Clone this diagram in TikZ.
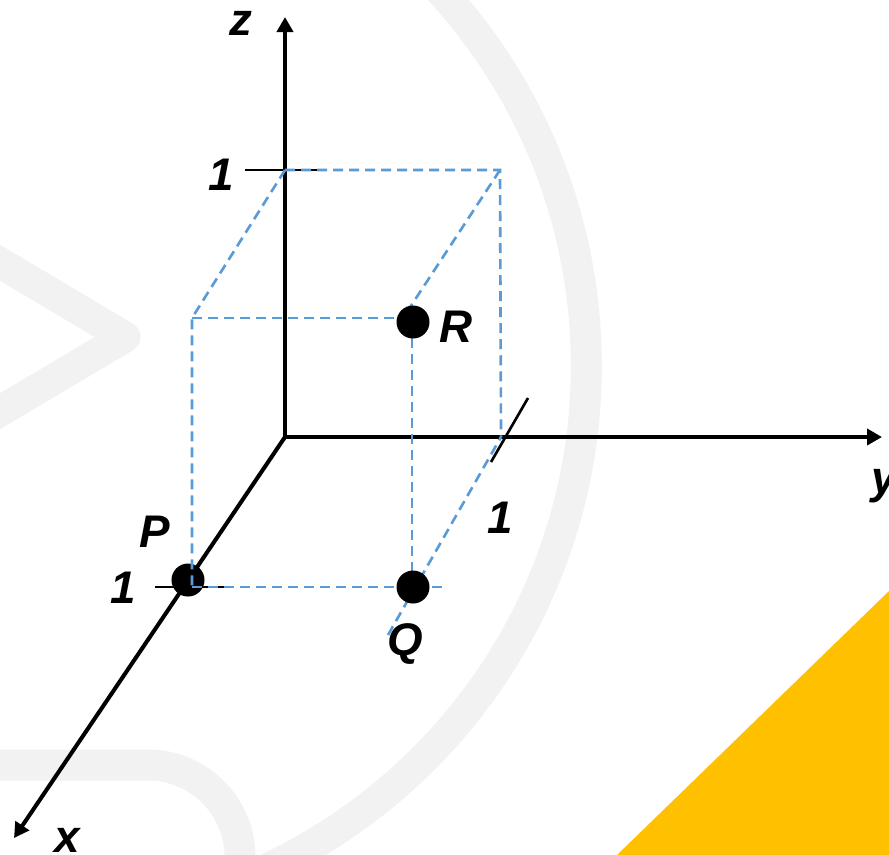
\documentclass[tikz,border=0pt]{standalone}
\usepackage{fontspec}
\setmainfont{Liberation Sans}
\usepackage{xcolor}
\usepackage{tikz}
\usetikzlibrary{arrows.meta,positioning}
\definecolor{dashblue}{HTML}{5B9BD5}
\definecolor{markyellow}{HTML}{FFC000}
\definecolor{wmgray}{HTML}{F2F2F2}

\begin{document}
\begin{tikzpicture}[
  x=0.01cm, y=-0.01cm,
  axis/.style={line width=1.15pt, -{Triangle[length=0.15cm,width=0.16cm]}},
  tick/.style={line width=0.75pt},
  guide/.style={dashblue, line width=0.75pt, dash pattern=on 0.1cm off 0.06cm},
  pt/.style={circle, fill=black, inner sep=0pt, minimum size=0.33cm},
  lbl/.style={font=\fontsize{13}{15}\selectfont\bfseries\itshape, inner sep=0pt, anchor=base},
  wm/.style={wmgray, line width=0.31cm}
]
\useasboundingbox (0,0) rectangle (889,854);
% background marks
\begin{scope}
  \clip (0,0) rectangle (889,854);
  \draw[wm] (31,366) circle[radius=5.55cm];
  \draw[wm, line join=round] (-30,245) -- (125,337) -- (-30,429);
  \draw[wm, rounded corners=0.92cm] (-30,765) -- (240,765) -- (240,900);
  \fill[markyellow] (618,854) -- (889,591) -- (889,900) -- (600,900) -- cycle;
\end{scope}

\coordinate (O) at (285,437);
\coordinate (Xend) at (14,838);
\coordinate (Yend) at (882,437);
\coordinate (Zend) at (285,17);
\coordinate (Z1) at (285,170);
\coordinate (ZY) at (500,170);
\coordinate (ZX) at (192,318);
\coordinate (Rk) at (403,318);
\coordinate (Y1) at (501,437);
\coordinate (X1) at (192,587);
\coordinate (Xr) at (445,587);
\coordinate (Qd) at (388,635);
\coordinate (Ztl) at (245,170);
\coordinate (Ztr) at (320,170);
\coordinate (Xtl) at (155,587);
\coordinate (Xtr) at (230,587);
\coordinate (Ytb) at (491,462);
\coordinate (Ytt) at (528,398);

% axes
\draw[axis] (O) -- (Zend);
\draw[axis] (O) -- (Yend);
\draw[axis] (O) -- (Xend);
\draw[tick] (Ztl) -- (Ztr);
\draw[tick] (Xtl) -- (Xtr);
\draw[tick] (Ytb) -- (Ytt);

\node[pt] (P) at (188,580) {};

% box
\draw[guide] (Z1) -- (ZY) -- (Y1);
\draw[guide] (Z1) -- (ZX) -- (X1);
\draw[guide] (ZX) -- (413,318);
\draw[guide] (ZY) -- (Rk);
\draw[guide] (X1) -- (Xr);
\draw[guide] (Qd) -- (Y1);
\draw[guide] (412,322) -- (412,587);

\node[pt] (Q) at (413,587) {};
\node[pt] (R) at (413,322) {};

% labels
\node[lbl] (zlab) at (241,35) {z};
\node[lbl] (ztick) at (221,190) {1};
\node[lbl] (Rlab) at (456,342) {R};
\node[lbl] (ylab) at (884,493) {y};
\node[lbl] (ytick) at (500,533) {1};
\node[lbl] (Plab) at (155,547) {P};
\node[lbl] (xtick) at (123,603) {1};
\node[lbl] (Qlab) at (405,655) {Q};
\node[lbl] (xlab) at (67,852) {x};
\end{tikzpicture}
\end{document}
